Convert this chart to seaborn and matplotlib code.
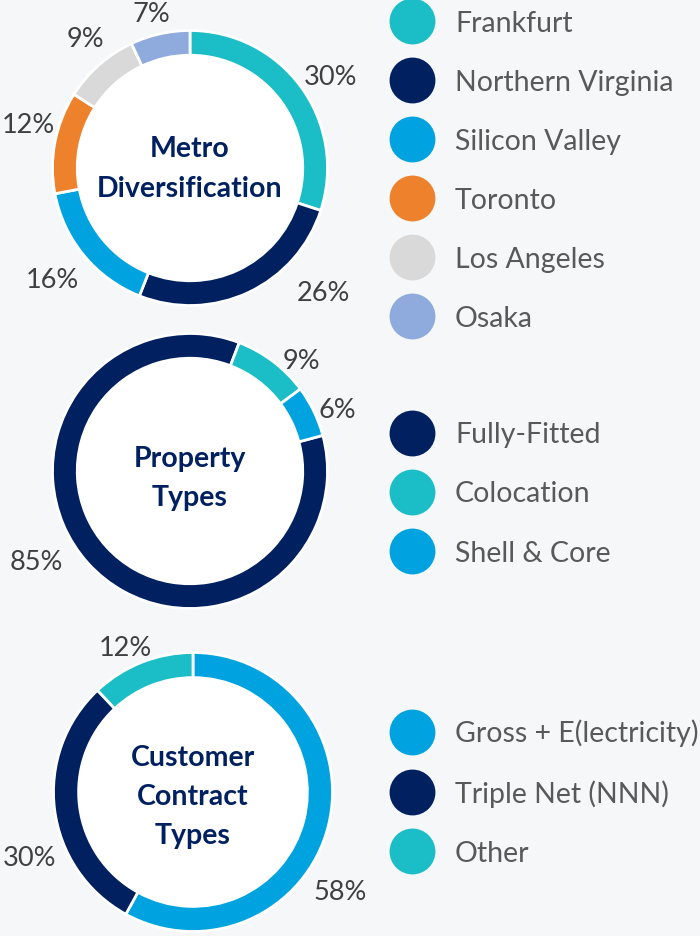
import numpy as np
import matplotlib.pyplot as plt
from matplotlib.lines import Line2D
import seaborn as sns

# data
metro_labels = ["Frankfurt", "Northern Virginia", "Silicon Valley", "Toronto", "Los Angeles", "Osaka"]
metro_values = [30, 26, 16, 12, 9, 7]

property_labels = ["Fully-Fitted", "Colocation", "Shell & Core"]
property_values = [85, 9, 6]

contract_labels = ["Gross + E(lectricity)", "Triple Net (NNN)", "Other"]
contract_values = [58, 30, 12]

# colours
TEAL = "#1bbdc6"
NAVY = "#002060"
BLUE = "#00a3e0"
ORANGE = "#ee822c"
LGRAY = "#d9d9d9"
LBLUE = "#8faadc"
BG = "#f6f7f9"

metro_colors = [TEAL, NAVY, BLUE, ORANGE, LGRAY, LBLUE]
property_colors = [NAVY, TEAL, BLUE]
contract_colors = [BLUE, NAVY, TEAL]

sns.set_theme(style="white")
plt.rcParams["font.family"] = ["Lato", "DejaVu Sans"]

W, H = 700, 937
fig = plt.figure(figsize=(W / 100, H / 100), dpi=100, facecolor=BG)


def donut(values, colors, title, center, radius, start, label_pos, title_dy=0.0):
    cx, cy = center
    half = 175
    ax = fig.add_axes([(cx - half) / W, 1 - (cy + half) / H, 2 * half / W, 2 * half / H])
    ax.set_facecolor("none")
    ax.add_patch(plt.Circle((0, 0), 0.82, color="white", zorder=0))
    ax.pie(values, colors=colors, startangle=start, counterclock=False, radius=1,
           wedgeprops=dict(width=0.18, edgecolor="white", linewidth=2))
    for v, (ang, dist) in zip(values, label_pos):
        a = np.radians(ang)
        ax.text(dist * np.cos(a), dist * np.sin(a), f"{v}%", ha="center", va="center",
                fontsize=19.5, color="#404040")
    ax.text(0, title_dy, title, ha="center", va="center", fontsize=20.5, fontweight="bold",
            color=NAVY, linespacing=1.62)
    lim = half / radius
    ax.set_xlim(-lim, lim)
    ax.set_ylim(-lim, lim)
    ax.set_aspect("equal")
    ax.axis("off")


def legend(labels, colors, center_y):
    handles = [Line2D([], [], marker="o", linestyle="", markersize=33, markerfacecolor=c,
                      markeredgewidth=0) for c in colors]
    fig.legend(handles, labels, loc="center left", bbox_to_anchor=(391 / W, 1 - center_y / H),
               frameon=False, fontsize=20.5, labelcolor="#595959", handlelength=1.5,
               handletextpad=0.75, labelspacing=1.16, borderpad=0, borderaxespad=0)


donut(metro_values, metro_colors, "Metro\nDiversification", (190, 169), 137.5, 90,
      [(33, 1.22), (-43, 1.33), (-141, 1.29), (165, 1.22), (129, 1.21), (104, 1.16)])
donut(property_values, property_colors, "Property\nTypes", (190, 472), 137.5, 15,
      [(-149.5, 1.30), (44.6, 1.14), (22.8, 1.16)], title_dy=-0.05)
donut(contract_values, contract_colors, "Customer\nContract\nTypes", (193, 793), 139.5, 90,
      [(-34, 1.27), (-158, 1.26), (115, 1.14)], title_dy=-0.03)

legend(metro_labels, metro_colors, 171.5)
legend(property_labels, property_colors, 494.5)
legend(contract_labels, contract_colors, 793.5)

fig.savefig("out.png", dpi=100, facecolor=fig.get_facecolor())
